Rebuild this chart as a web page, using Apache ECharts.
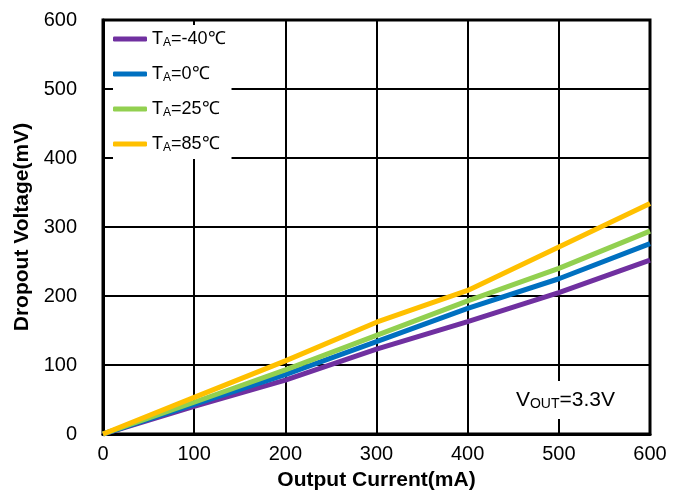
<!DOCTYPE html>
<html>
<head>
<meta charset="utf-8">
<script src="https://cdn.jsdelivr.net/npm/echarts@6/dist/echarts.min.js"></script>
<style>
  html, body { margin: 0; padding: 0; background: #fff; }
  #chart { width: 682px; height: 490px; }
</style>
</head>
<body>
<div id="chart"></div>
<script>
// output current (mA) on the x axis
const current = [0, 100, 200, 300, 400, 500, 600];
// dropout voltage (mV), one array per temperature
const vM40 = [0, 40, 78, 123, 163, 205, 252];
const v0 = [0, 43, 86, 134, 182, 225, 276];
const v25 = [0, 46, 93, 143, 193, 240, 294];
const v85 = [0, 53, 106, 162, 208, 271, 334];
const seriesNames = ['TA=-40℃', 'TA=0℃', 'TA=25℃', 'TA=85℃'];
const seriesColors = ['#7030A0', '#0070C0', '#92D050', '#FFC000'];
const axisTicks = [0, 100, 200, 300, 400, 500, 600];

const font = 'Liberation Sans, Arial, sans-serif';
const myChart = echarts.init(document.getElementById('chart'));

function pairs(ys) {
  return current.map((x, i) => [x, ys[i]]);
}

const lineSeries = [vM40, v0, v25, v85].map((ys, i) => ({
  name: seriesNames[i],
  type: 'line',
  data: pairs(ys),
  symbol: 'none',
  color: seriesColors[i],
  lineStyle: { width: 5, color: seriesColors[i] },
  z: 3
}));

myChart.setOption({
  animation: false,
  textStyle: { fontFamily: font },
  grid: {
    left: 103, right: 32, top: 20, bottom: 56,
    outerBoundsMode: 'none',
    show: true,
    borderColor: '#000',
    borderWidth: 3
  },
  legend: {
    orient: 'vertical',
    left: 113,
    top: 25,
    padding: [5, 6, 5, 0],
    backgroundColor: '#fff',
    icon: 'roundRect',
    itemWidth: 34,
    itemHeight: 5,
    itemGap: 16,
    data: seriesNames,
    formatter: function (name) {
      return '{t|T}{s|A}{t|' + name.slice(2) + '}';
    },
    textStyle: {
      rich: {
        t: { fontSize: 18, lineHeight: 20, color: '#000', fontFamily: font },
        s: { fontSize: 12, lineHeight: 12, verticalAlign: 'bottom', color: '#000', fontFamily: font }
      }
    },
    z: 5
  },
  xAxis: {
    type: 'value',
    min: axisTicks[0],
    max: axisTicks[axisTicks.length - 1],
    interval: 100,
    name: 'Output Current(mA)',
    nameLocation: 'middle',
    nameGap: 36,
    nameTextStyle: { fontSize: 21, fontWeight: 'bold', color: '#000', fontFamily: font },
    axisLine: { show: true, lineStyle: { color: '#000', width: 3 } },
    axisTick: { show: false },
    axisLabel: { fontSize: 20, color: '#000', margin: 10, fontFamily: font },
    splitLine: { show: true, lineStyle: { color: '#000', width: 2 } }
  },
  yAxis: {
    type: 'value',
    min: axisTicks[0],
    max: axisTicks[axisTicks.length - 1],
    interval: 100,
    name: 'Dropout Voltage(mV)',
    nameLocation: 'middle',
    nameGap: 68,
    nameTextStyle: { fontSize: 21, fontWeight: 'bold', color: '#000', fontFamily: font },
    axisLine: { show: true, lineStyle: { color: '#000', width: 3 } },
    axisTick: { show: false },
    axisLabel: { fontSize: 20, color: '#000', margin: 26, fontFamily: font },
    splitLine: { show: true, lineStyle: { color: '#000', width: 2 } }
  },
  graphic: [{
    type: 'text',
    right: 59,
    bottom: 71,
    z: 10,
    style: {
      text: '{v|V}{s|OUT}{v|=3.3V}',
      backgroundColor: '#fff',
      padding: [8, 8, 8, 8],
      rich: {
        v: { fontSize: 21, lineHeight: 22, color: '#000', fontFamily: font },
        s: { fontSize: 14, lineHeight: 13, verticalAlign: 'bottom', color: '#000', fontFamily: font }
      }
    }
  }],
  series: lineSeries
});
</script>
</body>
</html>
